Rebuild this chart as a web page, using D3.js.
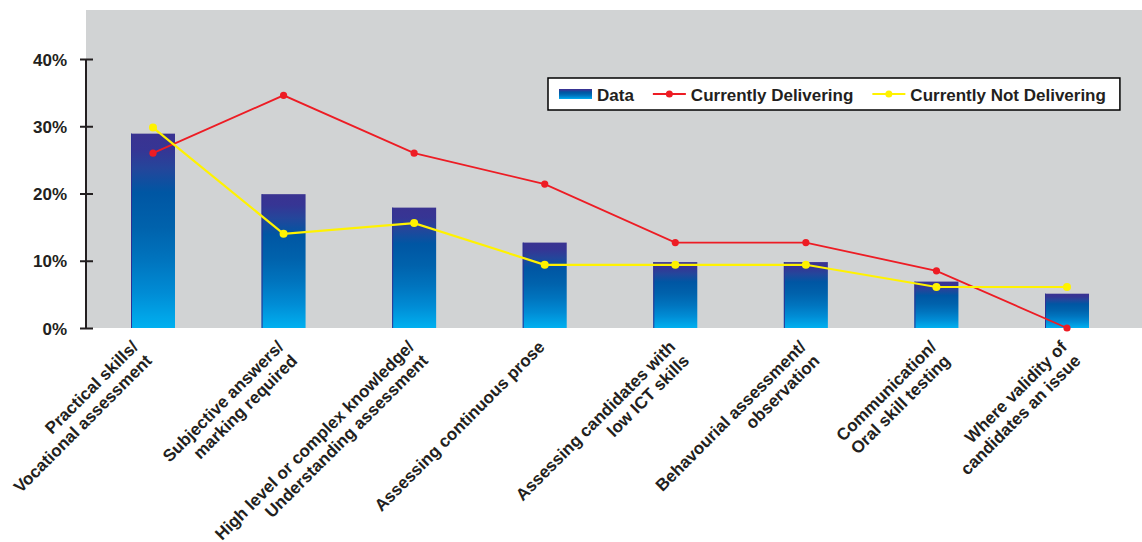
<!DOCTYPE html>
<html>
<head>
<meta charset="utf-8">
<script src="https://cdn.jsdelivr.net/npm/d3@7"></script>
<style>
    body { margin: 0; background: #ffffff; }
    svg text {
        font-family: "Liberation Sans", Arial, Helvetica, sans-serif;
        font-weight: bold;
        fill: #231f20;
    }
</style>
</head>
<body>
<svg id="chart" width="1142" height="542"></svg>
<script>

/* Kategorien (Zeilen durch \n getrennt) */
var categories = [
    "Practical skills/\nVocational assessment",
    "Subjective answers/\nmarking required",
    "High level or complex knowledge/\nUnderstanding assessment",
    "Assessing continuous prose",
    "Assessing candidates with\nlow ICT skills",
    "Behavourial assessment/\nobservation",
    "Communication/\nOral skill testing",
    "Where validity of\ncandidates an issue"
];

/* Werte in Prozent */
var data_values     = [28.9, 19.9, 17.9, 12.7, 9.8, 9.8, 6.9, 5.1];
var delivering      = [26.0, 34.6, 26.0, 21.4, 12.7, 12.7, 8.5, 0.0];
var not_delivering  = [29.8, 14.0, 15.6, 9.4, 9.4, 9.4, 6.1, 6.1];

var y_ticks         = [0, 10, 20, 30, 40];
var legend_labels   = ["Data", "Currently Delivering", "Currently Not Delivering"];

var col_red     = "#ed1c24";
var col_yellow  = "#fff200";
var col_text    = "#231f20";

var svg = d3.select("#chart");

/* Skalen */
var x = d3.scalePoint()
    .domain(d3.range(categories.length))
    .range([153, 1067]);

var y = d3.scaleLinear()
    .domain([0, 40])
    .range([328, 59]);

var bar_width = 44;

/* Verlauf der Balken */
var defs = svg.append("defs");
var grad = defs.append("linearGradient")
    .attr("id", "bar_grad")
    .attr("x1", 0).attr("y1", 0)
    .attr("x2", 0).attr("y2", 1);

[
    [0.00, "#3a3391"], [0.08, "#363594"], [0.18, "#24469b"],
    [0.30, "#0056a3"], [0.48, "#0062ac"], [0.65, "#0074be"],
    [0.82, "#008cd5"], [1.00, "#00b0f0"]
].forEach(function(s) {
    grad.append("stop").attr("offset", s[0]).attr("stop-color", s[1]);
});

/* Grauer Hintergrund der Zeichenfläche */
svg.append("rect")
    .attr("x", 86).attr("y", 10)
    .attr("width", 1142 - 86).attr("height", y(0) - 10)
    .attr("fill", "#d1d3d4");

/* Balken */
svg.selectAll(".bar")
    .data(data_values)
    .enter().append("rect")
    .attr("class", "bar")
    .attr("x", function(d, i) { return x(i) - bar_width / 2; })
    .attr("y", function(d) { return y(d); })
    .attr("width", bar_width)
    .attr("height", function(d) { return y(0) - y(d); })
    .attr("fill", "url(#bar_grad)");

svg.selectAll(".bar_edge")
    .data(data_values)
    .enter().append("line")
    .attr("class", "bar_edge")
    .attr("x1", function(d, i) { return x(i) - bar_width / 2 + 0.5; })
    .attr("x2", function(d, i) { return x(i) - bar_width / 2 + 0.5; })
    .attr("y1", function(d) { return y(d); })
    .attr("y2", y(0))
    .attr("stroke", "#2e3192")
    .attr("stroke-width", 1);

/* Y-Achse */
var y_axis = d3.axisLeft(y)
    .tickValues(y_ticks)
    .tickFormat(function(d) { return d + "%"; })
    .tickSizeInner(6)
    .tickSizeOuter(0);

var gy = svg.append("g")
    .attr("transform", "translate(86,0)")
    .call(y_axis);

gy.select(".domain")
    .attr("stroke", col_text)
    .attr("stroke-width", 2)
    .attr("d", "M0," + y(40) + "V" + y(0));

gy.selectAll(".tick line")
    .attr("x1", -6).attr("x2", 7)
    .attr("stroke", col_text)
    .attr("stroke-width", 2);

gy.selectAll(".tick text")
    .attr("x", -19)
    .attr("dy", "0.36em")
    .style("font-size", "17px")
    .style("font-family", "'Liberation Sans', Arial, sans-serif")
    .style("font-weight", "bold")
    .attr("fill", col_text);

/* Linien mit Punkten */
function draw_series(values, color, width, radius) {
    var line = d3.line()
        .x(function(d, i) { return x(i); })
        .y(function(d) { return y(d); });

    svg.append("path")
        .datum(values)
        .attr("d", line)
        .attr("fill", "none")
        .attr("stroke", color)
        .attr("stroke-width", width);

    svg.append("g").selectAll("circle")
        .data(values)
        .enter().append("circle")
        .attr("cx", function(d, i) { return x(i); })
        .attr("cy", function(d) { return y(d); })
        .attr("r", radius)
        .attr("fill", color);
}

draw_series(delivering, col_red, 1.8, 3.6);
draw_series(not_delivering, col_yellow, 2.2, 4);

/* Kategorienbeschriftung, um -45° gedreht
 * (die erste Beschriftung sitzt im Original etwas weiter links) */
var labels = svg.selectAll(".cat_label")
    .data(categories)
    .enter().append("text")
    .attr("class", "cat_label")
    .attr("text-anchor", "end")
    .style("font-size", "17px")
    .attr("transform", function(d, i) {
        var shift = (i === 0) ? -14 : 1;
        return "translate(" + (x(i) + shift) + ",348) rotate(-45)";
    });

labels.each(function(d) {
    var t = d3.select(this);
    d.split("\n").forEach(function(line, k) {
        t.append("tspan")
            .attr("x", 0)
            .attr("dy", k === 0 ? 0 : 19.5)
            .text(line);
    });
});

/* Legende */
var legend = svg.append("g").attr("class", "legend");
var leg_box = legend.append("rect")
    .attr("x", 548).attr("y", 78)
    .attr("height", 32)
    .attr("fill", "#ffffff")
    .attr("stroke", "#000000")
    .attr("stroke-width", 1.5);

var leg_x = 559;
var leg_y = 94;

legend_labels.forEach(function(label, i) {
    if (i === 0) {
        legend.append("rect")
            .attr("x", leg_x).attr("y", leg_y - 5)
            .attr("width", 33).attr("height", 10)
            .attr("fill", "url(#bar_grad)");
    } else {
        var c = i === 1 ? col_red : col_yellow;
        legend.append("line")
            .attr("x1", leg_x).attr("x2", leg_x + 33)
            .attr("y1", leg_y).attr("y2", leg_y)
            .attr("stroke", c).attr("stroke-width", 2);
        legend.append("circle")
            .attr("cx", leg_x + 16.5).attr("cy", leg_y)
            .attr("r", 3.5).attr("fill", c);
    }
    var txt = legend.append("text")
        .attr("x", leg_x + 38)
        .attr("y", leg_y + 6.5)
        .style("font-size", "17px")
        .text(label);
    leg_x = leg_x + 38 + txt.node().getComputedTextLength() + 19;
});

leg_box.attr("width", leg_x - 19 + 14 - 548);

</script>
</body>
</html>
